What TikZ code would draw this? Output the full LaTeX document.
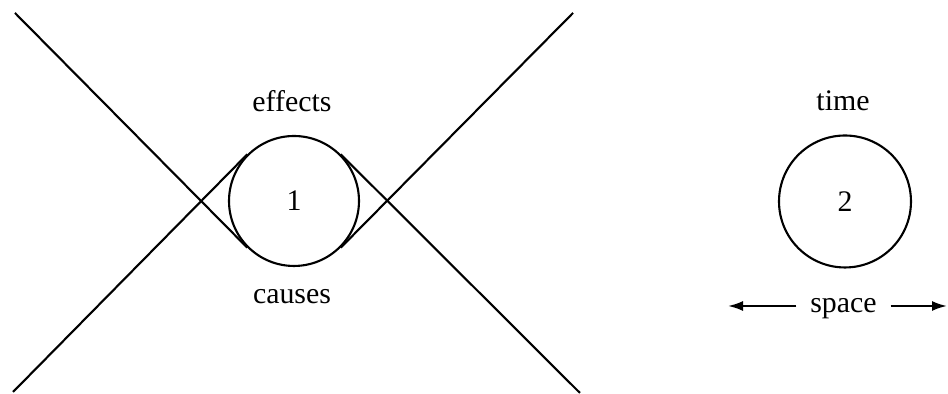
\documentclass[tikz,border=0pt]{standalone}
\usepackage{fontspec}
\setmainfont{Liberation Serif}
\usetikzlibrary{arrows.meta}
\tikzset{
  lbl/.style={font=\fontsize{17}{20}\selectfont},
  ball/.style={circle,draw,inner sep=0pt,minimum size=2.6cm,font=\fontsize{17}{20}\selectfont}
}

\begin{document}
\begin{tikzpicture}[x=0.02cm,y=0.02cm,line width=1.2pt]
    \useasboundingbox (0,0) rectangle (948,394);
    % left picture
    \node[ball] (c1) at (294,193) {1};
    \node[lbl,anchor=base] (eff) at (292,282) {effects};
    \node[lbl,anchor=base] (cau) at (292,90) {causes};
    \coordinate (tl) at (15,381);
    \coordinate (bl) at (13,2);
    \coordinate (tr) at (573,381);
    \coordinate (br) at (580,1);
    \draw (tl) -- (c1.225);
    \draw (bl) -- (c1.135);
    \draw (tr) -- (c1.315);
    \draw (br) -- (c1.45);
    % right picture
    \node[ball,minimum size=2.64cm] (c2) at (845,192.5) {2};
    \node[lbl,anchor=base] (tim) at (843,283) {time};
    \node[lbl,anchor=base,inner xsep=0.26cm] (spc) at (843.5,81) {space};
    \coordinate (sl) at (728,88);
    \coordinate (sr) at (947,88);
    \draw[-{Latex[length=0.3cm,width=0.2cm]}] (spc.west|-sl) -- (sl);
    \draw[-{Latex[length=0.3cm,width=0.2cm]}] (spc.east|-sr) -- (sr);
\end{tikzpicture}
\end{document}
